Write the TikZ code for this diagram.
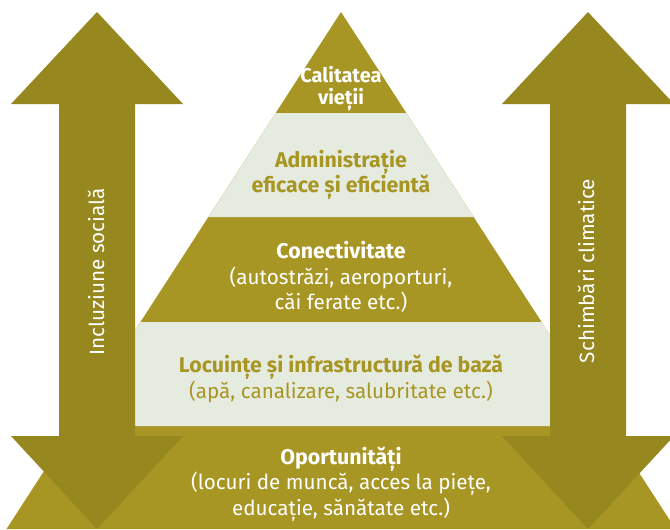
\documentclass[tikz,border=0pt]{standalone}
\usepackage{fontspec}
\setmainfont{Fira Sans}
\usetikzlibrary{positioning}
\definecolor{olive}{RGB}{168,150,36}
\definecolor{darkolive}{RGB}{150,135,30}
\definecolor{pale}{RGB}{230,235,224}
\newcommand{\head}[1]{{\bfseries\fontsize{16}{19}\selectfont #1}}
\tikzset{
  tier/.style={text=#1,align=center,font=\fontsize{15.5}{19}\selectfont},
  tier/.default=white,
  side/.style={text=white,rotate=90,font=\fontsize{15.5}{18}\selectfont},
  % double arrow, tip at the origin
  pics/twoway/.style={code={
    \fill[#1] (0,0) -- (86,92) -- (38,92) -- (38,424) -- (86,424) -- (0,517)
      -- (-86,424) -- (-38,424) -- (-38,92) -- (-86,92) -- cycle;
  }},
  pics/twoway/.default=darkolive,
}
\newcommand{\hw}[1]{0.647*(#1-12)}
\begin{document}
\begin{tikzpicture}[x=0.75pt,y=-0.75pt]
  \useasboundingbox (0,0) rectangle (670,529);
  \clip (0,0) rectangle (670,529);
  % pyramid
  \fill[olive] (341,12) -- ({341-\hw{529}},529) -- ({341+\hw{529}},529) -- cycle;
  \foreach \a/\b in {113/217,322/426}
    \fill[pale] ({341-\hw{\a}},\a) -- ({341+\hw{\a}},\a) -- ({341+\hw{\b}},\b) -- ({341-\hw{\b}},\b) -- cycle;
  % arrows
  \pic at (97,12) {twoway};
  \pic at (588,12) {twoway};
  % labels
  \node[tier,font=\bfseries\fontsize{15}{16.5}\selectfont] (life) at (341,89) {Calitatea\\vieții};
  \node[tier=olive] (admin) at (341,175) {\head{Administrație}\\\head{eficace și eficientă}};
  \node[tier] (conn) at (341,277) {\head{Conectivitate}\\(autostrăzi, aeroporturi,\\căi ferate etc.)};
  \node[tier=olive] (home) at (341,379) {\head{Locuințe și infrastructură de bază}\\(apă, canalizare, salubritate etc.)};
  \node[tier] (jobs) at (341,484) {\head{Oportunități}\\(locuri de muncă, acces la piețe,\\educație, sănătate etc.)};
  \node[side] (incl) at (96,272) {Incluziune socială};
  \node[side] (clim) at (586,271) {Schimbări climatice};
\end{tikzpicture}
\end{document}
